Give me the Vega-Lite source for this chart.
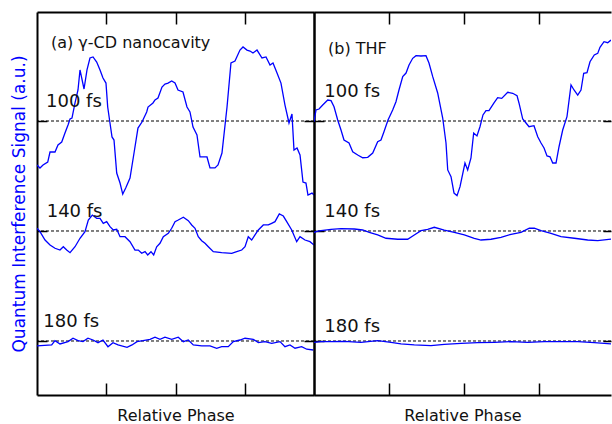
{
  "$schema": "https://vega.github.io/schema/vega-lite/v6.json",
  "padding": {"left": 10, "top": 11, "right": 0, "bottom": 0},
  "spacing": 0,
  "bounds": "flush",
  "config": {
    "view": {"stroke": null},
    "font": "DejaVu Sans",
    "axis": {"grid": false, "labels": false, "domainColor": "#000", "tickColor": "#000", "domainWidth": 2, "tickWidth": 1.5, "titleFont": "DejaVu Sans", "titleFontWeight": "normal", "titleFontSize": 16, "titleColor": "#111"}
  },
  "datasets": {
    "base": [{"y": 0}, {"y": 1}, {"y": 2}],
    "la": [
      {"k": "panel", "t": "(a) γ-CD nanocavity", "x": 0.202, "y": 2.664},
      {"k": "delay", "t": "100 fs", "x": 0.13, "y": 2.127},
      {"k": "delay", "t": "140 fs", "x": 0.14, "y": 1.127},
      {"k": "delay", "t": "180 fs", "x": 0.091, "y": 0.127}
    ],
    "lb": [
      {"k": "panel", "t": "(b) THF", "x": 0.187, "y": 2.609},
      {"k": "delay", "t": "100 fs", "x": 0.137, "y": 2.218},
      {"k": "delay", "t": "140 fs", "x": 0.137, "y": 1.127},
      {"k": "delay", "t": "180 fs", "x": 0.137, "y": 0.086}
    ],
    "a": [
      {"d": "100 fs", "x": 0.0, "y": 1.6}, {"d": "100 fs", "x": 0.043, "y": 1.573}, {"d": "100 fs", "x": 0.087, "y": 1.6}, {"d": "100 fs", "x": 0.155, "y": 1.627}, {"d": "100 fs", "x": 0.188, "y": 1.718}, {"d": "100 fs", "x": 0.26, "y": 1.718}, {"d": "100 fs", "x": 0.303, "y": 1.782}, {"d": "100 fs", "x": 0.357, "y": 1.809}, {"d": "100 fs", "x": 0.404, "y": 1.891}, {"d": "100 fs", "x": 0.448, "y": 1.964}, {"d": "100 fs", "x": 0.477, "y": 2.018}, {"d": "100 fs", "x": 0.505, "y": 2.027}, {"d": "100 fs", "x": 0.549, "y": 2.164}, {"d": "100 fs", "x": 0.592, "y": 2.282}, {"d": "100 fs", "x": 0.621, "y": 2.464}, {"d": "100 fs", "x": 0.679, "y": 2.291}, {"d": "100 fs", "x": 0.722, "y": 2.464}, {"d": "100 fs", "x": 0.765, "y": 2.573}, {"d": "100 fs", "x": 0.809, "y": 2.582}, {"d": "100 fs", "x": 0.862, "y": 2.536}, {"d": "100 fs", "x": 0.91, "y": 2.464}, {"d": "100 fs", "x": 0.953, "y": 2.391}, {"d": "100 fs", "x": 0.996, "y": 2.345}, {"d": "100 fs", "x": 1.021, "y": 2.127}, {"d": "100 fs", "x": 1.054, "y": 1.982}, {"d": "100 fs", "x": 1.083, "y": 1.855}, {"d": "100 fs", "x": 1.112, "y": 1.827}, {"d": "100 fs", "x": 1.151, "y": 1.527}, {"d": "100 fs", "x": 1.199, "y": 1.436}, {"d": "100 fs", "x": 1.238, "y": 1.336}, {"d": "100 fs", "x": 1.281, "y": 1.391}, {"d": "100 fs", "x": 1.343, "y": 1.482}, {"d": "100 fs", "x": 1.401, "y": 1.709}, {"d": "100 fs", "x": 1.458, "y": 1.936}, {"d": "100 fs", "x": 1.516, "y": 1.991}, {"d": "100 fs", "x": 1.584, "y": 2.082}, {"d": "100 fs", "x": 1.603, "y": 2.127}, {"d": "100 fs", "x": 1.675, "y": 2.164}, {"d": "100 fs", "x": 1.704, "y": 2.191}, {"d": "100 fs", "x": 1.747, "y": 2.209}, {"d": "100 fs", "x": 1.805, "y": 2.309}, {"d": "100 fs", "x": 1.848, "y": 2.336}, {"d": "100 fs", "x": 1.892, "y": 2.345}, {"d": "100 fs", "x": 1.945, "y": 2.364}, {"d": "100 fs", "x": 1.993, "y": 2.345}, {"d": "100 fs", "x": 2.036, "y": 2.282}, {"d": "100 fs", "x": 2.108, "y": 2.264}, {"d": "100 fs", "x": 2.166, "y": 2.127}, {"d": "100 fs", "x": 2.209, "y": 2.082}, {"d": "100 fs", "x": 2.253, "y": 1.945}, {"d": "100 fs", "x": 2.31, "y": 1.873}, {"d": "100 fs", "x": 2.354, "y": 1.673}, {"d": "100 fs", "x": 2.455, "y": 1.673}, {"d": "100 fs", "x": 2.498, "y": 1.573}, {"d": "100 fs", "x": 2.57, "y": 1.573}, {"d": "100 fs", "x": 2.614, "y": 1.6}, {"d": "100 fs", "x": 2.671, "y": 1.709}, {"d": "100 fs", "x": 2.744, "y": 2.127}, {"d": "100 fs", "x": 2.801, "y": 2.527}, {"d": "100 fs", "x": 2.859, "y": 2.545}, {"d": "100 fs", "x": 2.931, "y": 2.645}, {"d": "100 fs", "x": 2.975, "y": 2.673}, {"d": "100 fs", "x": 3.032, "y": 2.645}, {"d": "100 fs", "x": 3.076, "y": 2.636}, {"d": "100 fs", "x": 3.119, "y": 2.618}, {"d": "100 fs", "x": 3.177, "y": 2.645}, {"d": "100 fs", "x": 3.249, "y": 2.573}, {"d": "100 fs", "x": 3.307, "y": 2.582}, {"d": "100 fs", "x": 3.365, "y": 2.509}, {"d": "100 fs", "x": 3.408, "y": 2.527}, {"d": "100 fs", "x": 3.466, "y": 2.436}, {"d": "100 fs", "x": 3.523, "y": 2.345}, {"d": "100 fs", "x": 3.581, "y": 2.145}, {"d": "100 fs", "x": 3.639, "y": 1.982}, {"d": "100 fs", "x": 3.682, "y": 2.064}, {"d": "100 fs", "x": 3.711, "y": 1.736}, {"d": "100 fs", "x": 3.755, "y": 1.755}, {"d": "100 fs", "x": 3.798, "y": 1.691}, {"d": "100 fs", "x": 3.841, "y": 1.445}, {"d": "100 fs", "x": 3.884, "y": 1.436}, {"d": "100 fs", "x": 3.913, "y": 1.327}, {"d": "100 fs", "x": 3.971, "y": 1.345}, {"d": "100 fs", "x": 4.0, "y": 1.327},
      {"d": "140 fs", "x": 0.0, "y": 1.025}, {"d": "140 fs", "x": 0.043, "y": 0.994}, {"d": "140 fs", "x": 0.116, "y": 0.918}, {"d": "140 fs", "x": 0.188, "y": 0.873}, {"d": "140 fs", "x": 0.26, "y": 0.843}, {"d": "140 fs", "x": 0.332, "y": 0.827}, {"d": "140 fs", "x": 0.38, "y": 0.857}, {"d": "140 fs", "x": 0.429, "y": 0.827}, {"d": "140 fs", "x": 0.477, "y": 0.803}, {"d": "140 fs", "x": 0.549, "y": 0.857}, {"d": "140 fs", "x": 0.621, "y": 0.934}, {"d": "140 fs", "x": 0.693, "y": 0.994}, {"d": "140 fs", "x": 0.741, "y": 1.1}, {"d": "140 fs", "x": 0.799, "y": 1.145}, {"d": "140 fs", "x": 0.862, "y": 1.115}, {"d": "140 fs", "x": 0.91, "y": 1.115}, {"d": "140 fs", "x": 0.957, "y": 1.07}, {"d": "140 fs", "x": 1.006, "y": 1.085}, {"d": "140 fs", "x": 1.054, "y": 1.039}, {"d": "140 fs", "x": 1.102, "y": 1.009}, {"d": "140 fs", "x": 1.151, "y": 1.015}, {"d": "140 fs", "x": 1.199, "y": 0.948}, {"d": "140 fs", "x": 1.271, "y": 0.948}, {"d": "140 fs", "x": 1.343, "y": 0.903}, {"d": "140 fs", "x": 1.415, "y": 0.827}, {"d": "140 fs", "x": 1.463, "y": 0.827}, {"d": "140 fs", "x": 1.512, "y": 0.797}, {"d": "140 fs", "x": 1.56, "y": 0.812}, {"d": "140 fs", "x": 1.599, "y": 0.782}, {"d": "140 fs", "x": 1.646, "y": 0.812}, {"d": "140 fs", "x": 1.685, "y": 0.782}, {"d": "140 fs", "x": 1.728, "y": 0.857}, {"d": "140 fs", "x": 1.776, "y": 0.888}, {"d": "140 fs", "x": 1.824, "y": 0.948}, {"d": "140 fs", "x": 1.896, "y": 0.979}, {"d": "140 fs", "x": 1.945, "y": 1.025}, {"d": "140 fs", "x": 1.993, "y": 1.085}, {"d": "140 fs", "x": 2.04, "y": 1.1}, {"d": "140 fs", "x": 2.113, "y": 1.125}, {"d": "140 fs", "x": 2.185, "y": 1.094}, {"d": "140 fs", "x": 2.234, "y": 1.055}, {"d": "140 fs", "x": 2.282, "y": 1.025}, {"d": "140 fs", "x": 2.329, "y": 0.948}, {"d": "140 fs", "x": 2.378, "y": 0.912}, {"d": "140 fs", "x": 2.426, "y": 0.888}, {"d": "140 fs", "x": 2.474, "y": 0.857}, {"d": "140 fs", "x": 2.546, "y": 0.812}, {"d": "140 fs", "x": 2.667, "y": 0.803}, {"d": "140 fs", "x": 2.812, "y": 0.797}, {"d": "140 fs", "x": 2.884, "y": 0.812}, {"d": "140 fs", "x": 2.956, "y": 0.827}, {"d": "140 fs", "x": 3.004, "y": 0.857}, {"d": "140 fs", "x": 3.051, "y": 0.948}, {"d": "140 fs", "x": 3.1, "y": 0.918}, {"d": "140 fs", "x": 3.148, "y": 0.964}, {"d": "140 fs", "x": 3.196, "y": 1.009}, {"d": "140 fs", "x": 3.268, "y": 1.055}, {"d": "140 fs", "x": 3.34, "y": 1.055}, {"d": "140 fs", "x": 3.389, "y": 1.07}, {"d": "140 fs", "x": 3.437, "y": 1.085}, {"d": "140 fs", "x": 3.499, "y": 1.155}, {"d": "140 fs", "x": 3.557, "y": 1.136}, {"d": "140 fs", "x": 3.606, "y": 1.085}, {"d": "140 fs", "x": 3.678, "y": 1.009}, {"d": "140 fs", "x": 3.75, "y": 0.903}, {"d": "140 fs", "x": 3.798, "y": 0.948}, {"d": "140 fs", "x": 3.87, "y": 0.918}, {"d": "140 fs", "x": 3.942, "y": 0.903}, {"d": "140 fs", "x": 4.0, "y": 0.873},
      {"d": "180 fs", "x": 0.0, "y": -0.045}, {"d": "180 fs", "x": 0.212, "y": -0.036}, {"d": "180 fs", "x": 0.26, "y": 0.003}, {"d": "180 fs", "x": 0.332, "y": -0.027}, {"d": "180 fs", "x": 0.448, "y": -0.006}, {"d": "180 fs", "x": 0.52, "y": 0.025}, {"d": "180 fs", "x": 0.592, "y": 0.003}, {"d": "180 fs", "x": 0.664, "y": -0.006}, {"d": "180 fs", "x": 0.736, "y": 0.025}, {"d": "180 fs", "x": 0.809, "y": 0.009}, {"d": "180 fs", "x": 0.881, "y": -0.015}, {"d": "180 fs", "x": 0.953, "y": 0.009}, {"d": "180 fs", "x": 1.025, "y": -0.052}, {"d": "180 fs", "x": 1.097, "y": -0.015}, {"d": "180 fs", "x": 1.17, "y": -0.036}, {"d": "180 fs", "x": 1.3, "y": -0.057}, {"d": "180 fs", "x": 1.372, "y": -0.036}, {"d": "180 fs", "x": 1.444, "y": -0.006}, {"d": "180 fs", "x": 1.531, "y": 0.003}, {"d": "180 fs", "x": 1.632, "y": 0.015}, {"d": "180 fs", "x": 1.704, "y": 0.034}, {"d": "180 fs", "x": 1.776, "y": 0.015}, {"d": "180 fs", "x": 1.848, "y": 0.034}, {"d": "180 fs", "x": 1.945, "y": 0.015}, {"d": "180 fs", "x": 2.04, "y": 0.034}, {"d": "180 fs", "x": 2.113, "y": -0.006}, {"d": "180 fs", "x": 2.185, "y": 0.009}, {"d": "180 fs", "x": 2.257, "y": -0.036}, {"d": "180 fs", "x": 2.378, "y": -0.045}, {"d": "180 fs", "x": 2.498, "y": -0.045}, {"d": "180 fs", "x": 2.595, "y": -0.066}, {"d": "180 fs", "x": 2.667, "y": -0.052}, {"d": "180 fs", "x": 2.762, "y": -0.052}, {"d": "180 fs", "x": 2.835, "y": -0.006}, {"d": "180 fs", "x": 2.931, "y": 0.009}, {"d": "180 fs", "x": 3.004, "y": 0.025}, {"d": "180 fs", "x": 3.123, "y": 0.015}, {"d": "180 fs", "x": 3.196, "y": -0.015}, {"d": "180 fs", "x": 3.292, "y": -0.006}, {"d": "180 fs", "x": 3.389, "y": -0.021}, {"d": "180 fs", "x": 3.509, "y": -0.006}, {"d": "180 fs", "x": 3.581, "y": -0.052}, {"d": "180 fs", "x": 3.653, "y": -0.036}, {"d": "180 fs", "x": 3.726, "y": -0.066}, {"d": "180 fs", "x": 3.822, "y": -0.052}, {"d": "180 fs", "x": 3.895, "y": -0.075}, {"d": "180 fs", "x": 3.99, "y": -0.082}
    ],
    "b": [
      {"d": "100 fs", "x": 0.0, "y": 1.994}, {"d": "100 fs", "x": 0.027, "y": 2.1}, {"d": "100 fs", "x": 0.067, "y": 2.109}, {"d": "100 fs", "x": 0.116, "y": 2.145}, {"d": "100 fs", "x": 0.183, "y": 2.191}, {"d": "100 fs", "x": 0.227, "y": 2.185}, {"d": "100 fs", "x": 0.267, "y": 2.13}, {"d": "100 fs", "x": 0.316, "y": 2.009}, {"d": "100 fs", "x": 0.36, "y": 1.918}, {"d": "100 fs", "x": 0.4, "y": 1.827}, {"d": "100 fs", "x": 0.467, "y": 1.8}, {"d": "100 fs", "x": 0.516, "y": 1.721}, {"d": "100 fs", "x": 0.583, "y": 1.691}, {"d": "100 fs", "x": 0.649, "y": 1.666}, {"d": "100 fs", "x": 0.716, "y": 1.67}, {"d": "100 fs", "x": 0.783, "y": 1.709}, {"d": "100 fs", "x": 0.849, "y": 1.812}, {"d": "100 fs", "x": 0.893, "y": 1.827}, {"d": "100 fs", "x": 0.933, "y": 1.903}, {"d": "100 fs", "x": 0.987, "y": 2.009}, {"d": "100 fs", "x": 1.049, "y": 2.1}, {"d": "100 fs", "x": 1.093, "y": 2.175}, {"d": "100 fs", "x": 1.133, "y": 2.282}, {"d": "100 fs", "x": 1.183, "y": 2.403}, {"d": "100 fs", "x": 1.227, "y": 2.436}, {"d": "100 fs", "x": 1.267, "y": 2.509}, {"d": "100 fs", "x": 1.316, "y": 2.57}, {"d": "100 fs", "x": 1.36, "y": 2.594}, {"d": "100 fs", "x": 1.427, "y": 2.591}, {"d": "100 fs", "x": 1.493, "y": 2.594}, {"d": "100 fs", "x": 1.533, "y": 2.527}, {"d": "100 fs", "x": 1.583, "y": 2.403}, {"d": "100 fs", "x": 1.649, "y": 2.255}, {"d": "100 fs", "x": 1.716, "y": 2.027}, {"d": "100 fs", "x": 1.76, "y": 1.8}, {"d": "100 fs", "x": 1.783, "y": 1.555}, {"d": "100 fs", "x": 1.827, "y": 1.494}, {"d": "100 fs", "x": 1.867, "y": 1.345}, {"d": "100 fs", "x": 1.907, "y": 1.321}, {"d": "100 fs", "x": 1.947, "y": 1.403}, {"d": "100 fs", "x": 2.013, "y": 1.618}, {"d": "100 fs", "x": 2.049, "y": 1.555}, {"d": "100 fs", "x": 2.093, "y": 1.664}, {"d": "100 fs", "x": 2.129, "y": 1.891}, {"d": "100 fs", "x": 2.173, "y": 1.864}, {"d": "100 fs", "x": 2.213, "y": 1.948}, {"d": "100 fs", "x": 2.253, "y": 2.055}, {"d": "100 fs", "x": 2.293, "y": 2.094}, {"d": "100 fs", "x": 2.333, "y": 2.094}, {"d": "100 fs", "x": 2.4, "y": 2.164}, {"d": "100 fs", "x": 2.449, "y": 2.212}, {"d": "100 fs", "x": 2.503, "y": 2.206}, {"d": "100 fs", "x": 2.583, "y": 2.261}, {"d": "100 fs", "x": 2.649, "y": 2.252}, {"d": "100 fs", "x": 2.707, "y": 2.23}, {"d": "100 fs", "x": 2.733, "y": 2.164}, {"d": "100 fs", "x": 2.783, "y": 2.018}, {"d": "100 fs", "x": 2.827, "y": 1.982}, {"d": "100 fs", "x": 2.867, "y": 1.948}, {"d": "100 fs", "x": 2.933, "y": 1.957}, {"d": "100 fs", "x": 2.983, "y": 1.857}, {"d": "100 fs", "x": 3.027, "y": 1.8}, {"d": "100 fs", "x": 3.067, "y": 1.755}, {"d": "100 fs", "x": 3.107, "y": 1.682}, {"d": "100 fs", "x": 3.147, "y": 1.675}, {"d": "100 fs", "x": 3.183, "y": 1.618}, {"d": "100 fs", "x": 3.227, "y": 1.618}, {"d": "100 fs", "x": 3.267, "y": 1.766}, {"d": "100 fs", "x": 3.316, "y": 1.918}, {"d": "100 fs", "x": 3.373, "y": 2.039}, {"d": "100 fs", "x": 3.427, "y": 2.327}, {"d": "100 fs", "x": 3.467, "y": 2.282}, {"d": "100 fs", "x": 3.516, "y": 2.236}, {"d": "100 fs", "x": 3.56, "y": 2.282}, {"d": "100 fs", "x": 3.596, "y": 2.434}, {"d": "100 fs", "x": 3.64, "y": 2.439}, {"d": "100 fs", "x": 3.68, "y": 2.539}, {"d": "100 fs", "x": 3.737, "y": 2.6}, {"d": "100 fs", "x": 3.783, "y": 2.615}, {"d": "100 fs", "x": 3.813, "y": 2.67}, {"d": "100 fs", "x": 3.867, "y": 2.721}, {"d": "100 fs", "x": 3.916, "y": 2.712}, {"d": "100 fs", "x": 3.96, "y": 2.736},
      {"d": "140 fs", "x": 0.0, "y": 0.986}, {"d": "140 fs", "x": 0.027, "y": 0.994}, {"d": "140 fs", "x": 0.093, "y": 1.003}, {"d": "140 fs", "x": 0.227, "y": 1.015}, {"d": "140 fs", "x": 0.36, "y": 1.021}, {"d": "140 fs", "x": 0.537, "y": 1.018}, {"d": "140 fs", "x": 0.649, "y": 1.009}, {"d": "140 fs", "x": 0.737, "y": 0.988}, {"d": "140 fs", "x": 0.849, "y": 0.964}, {"d": "140 fs", "x": 0.96, "y": 0.934}, {"d": "140 fs", "x": 1.116, "y": 0.925}, {"d": "140 fs", "x": 1.249, "y": 0.925}, {"d": "140 fs", "x": 1.337, "y": 0.964}, {"d": "140 fs", "x": 1.427, "y": 1.003}, {"d": "140 fs", "x": 1.516, "y": 1.015}, {"d": "140 fs", "x": 1.604, "y": 1.034}, {"d": "140 fs", "x": 1.737, "y": 1.009}, {"d": "140 fs", "x": 1.871, "y": 0.988}, {"d": "140 fs", "x": 2.004, "y": 0.964}, {"d": "140 fs", "x": 2.137, "y": 0.934}, {"d": "140 fs", "x": 2.227, "y": 0.918}, {"d": "140 fs", "x": 2.36, "y": 0.925}, {"d": "140 fs", "x": 2.493, "y": 0.943}, {"d": "140 fs", "x": 2.627, "y": 0.97}, {"d": "140 fs", "x": 2.76, "y": 0.988}, {"d": "140 fs", "x": 2.871, "y": 1.025}, {"d": "140 fs", "x": 2.937, "y": 1.025}, {"d": "140 fs", "x": 3.027, "y": 1.003}, {"d": "140 fs", "x": 3.16, "y": 0.979}, {"d": "140 fs", "x": 3.293, "y": 0.948}, {"d": "140 fs", "x": 3.471, "y": 0.934}, {"d": "140 fs", "x": 3.649, "y": 0.918}, {"d": "140 fs", "x": 3.783, "y": 0.912}, {"d": "140 fs", "x": 3.96, "y": 0.927},
      {"d": "180 fs", "x": 0.0, "y": -0.012}, {"d": "180 fs", "x": 0.093, "y": -0.006}, {"d": "180 fs", "x": 0.227, "y": -0.006}, {"d": "180 fs", "x": 0.404, "y": -0.003}, {"d": "180 fs", "x": 0.627, "y": -0.012}, {"d": "180 fs", "x": 0.849, "y": 0.003}, {"d": "180 fs", "x": 1.027, "y": -0.012}, {"d": "180 fs", "x": 1.16, "y": -0.027}, {"d": "180 fs", "x": 1.337, "y": -0.036}, {"d": "180 fs", "x": 1.56, "y": -0.043}, {"d": "180 fs", "x": 1.737, "y": -0.03}, {"d": "180 fs", "x": 1.96, "y": -0.021}, {"d": "180 fs", "x": 2.183, "y": -0.015}, {"d": "180 fs", "x": 2.404, "y": -0.012}, {"d": "180 fs", "x": 2.627, "y": -0.006}, {"d": "180 fs", "x": 2.849, "y": -0.012}, {"d": "180 fs", "x": 3.071, "y": -0.006}, {"d": "180 fs", "x": 3.337, "y": -0.006}, {"d": "180 fs", "x": 3.516, "y": -0.006}, {"d": "180 fs", "x": 3.737, "y": -0.015}, {"d": "180 fs", "x": 3.96, "y": -0.027}
    ]
  },
  "hconcat": [
    {
      "width": 277,
      "height": 383,
      "resolve": {"axis": {"x": "independent", "y": "independent"}},
      "layer": [
        {
          "data": {"name": "base"},
          "mark": {"type": "rule", "strokeDash": [3, 2], "strokeWidth": 1, "color": "#000"},
          "encoding": {
            "y": {"field": "y", "type": "quantitative", "scale": {"domain": [-0.491, 2.991], "nice": false, "zero": false},
              "axis": {"orient": "left", "values": [0, 1, 2], "tickSize": -10, "title": "Quantum Interference Signal (a.u.)", "titleColor": "#0000ff", "titleFontSize": 17, "titlePadding": 8}}
          }
        },
        {
          "data": {"name": "a"},
          "mark": {"type": "line", "color": "#0000ff", "strokeWidth": 1.3, "clip": true},
          "encoding": {
            "x": {"field": "x", "type": "quantitative", "scale": {"domain": [0, 4], "nice": false, "zero": false},
              "axis": {"orient": "bottom", "values": [1, 2, 3], "tickSize": -12, "title": "Relative Phase", "titlePadding": 12}},
            "y": {"field": "y", "type": "quantitative", "axis": {"orient": "right", "values": [0, 1, 2], "tickSize": -10, "title": null}},
            "detail": {"field": "d"}
          }
        },
        {
          "data": {"name": "la"},
          "transform": [{"filter": "datum.k === 'delay'"}],
          "mark": {"type": "text", "align": "left", "baseline": "alphabetic", "fontSize": 18, "color": "#111"},
          "encoding": {
            "x": {"field": "x", "type": "quantitative", "axis": {"orient": "top", "values": [1, 2, 3], "tickSize": -12, "title": null}},
            "y": {"field": "y", "type": "quantitative", "axis": null},
            "text": {"field": "t"}
          }
        },
        {
          "data": {"name": "la"},
          "transform": [{"filter": "datum.k === 'panel'"}],
          "mark": {"type": "text", "align": "left", "baseline": "alphabetic", "fontSize": 16, "color": "#111"},
          "encoding": {
            "x": {"field": "x", "type": "quantitative", "axis": null},
            "y": {"field": "y", "type": "quantitative", "axis": null},
            "text": {"field": "t"}
          }
        }
      ]
    },
    {
      "width": 297,
      "height": 383,
      "resolve": {"axis": {"x": "independent", "y": "independent"}},
      "layer": [
        {
          "data": {"name": "base"},
          "mark": {"type": "rule", "strokeDash": [3, 2], "strokeWidth": 1, "color": "#000"},
          "encoding": {
            "y": {"field": "y", "type": "quantitative", "scale": {"domain": [-0.491, 2.991], "nice": false, "zero": false},
              "axis": {"orient": "left", "values": [0, 1, 2], "tickSize": -10, "title": null}}
          }
        },
        {
          "data": {"name": "b"},
          "mark": {"type": "line", "color": "#0000ff", "strokeWidth": 1.3, "clip": true},
          "encoding": {
            "x": {"field": "x", "type": "quantitative", "scale": {"domain": [0, 3.96], "nice": false, "zero": false},
              "axis": {"orient": "bottom", "values": [1, 2, 3], "tickSize": -12, "title": "Relative Phase", "titlePadding": 12}},
            "y": {"field": "y", "type": "quantitative", "axis": {"orient": "right", "values": [0, 1, 2], "tickSize": -8, "domain": false, "title": null}},
            "detail": {"field": "d"}
          }
        },
        {
          "data": {"name": "lb"},
          "transform": [{"filter": "datum.k === 'delay'"}],
          "mark": {"type": "text", "align": "left", "baseline": "alphabetic", "fontSize": 18, "color": "#111"},
          "encoding": {
            "x": {"field": "x", "type": "quantitative", "axis": {"orient": "top", "values": [1, 2, 3], "tickSize": -12, "title": null}},
            "y": {"field": "y", "type": "quantitative", "axis": null},
            "text": {"field": "t"}
          }
        },
        {
          "data": {"name": "lb"},
          "transform": [{"filter": "datum.k === 'panel'"}],
          "mark": {"type": "text", "align": "left", "baseline": "alphabetic", "fontSize": 16, "color": "#111"},
          "encoding": {
            "x": {"field": "x", "type": "quantitative", "axis": null},
            "y": {"field": "y", "type": "quantitative", "axis": null},
            "text": {"field": "t"}
          }
        }
      ]
    }
  ]
}
